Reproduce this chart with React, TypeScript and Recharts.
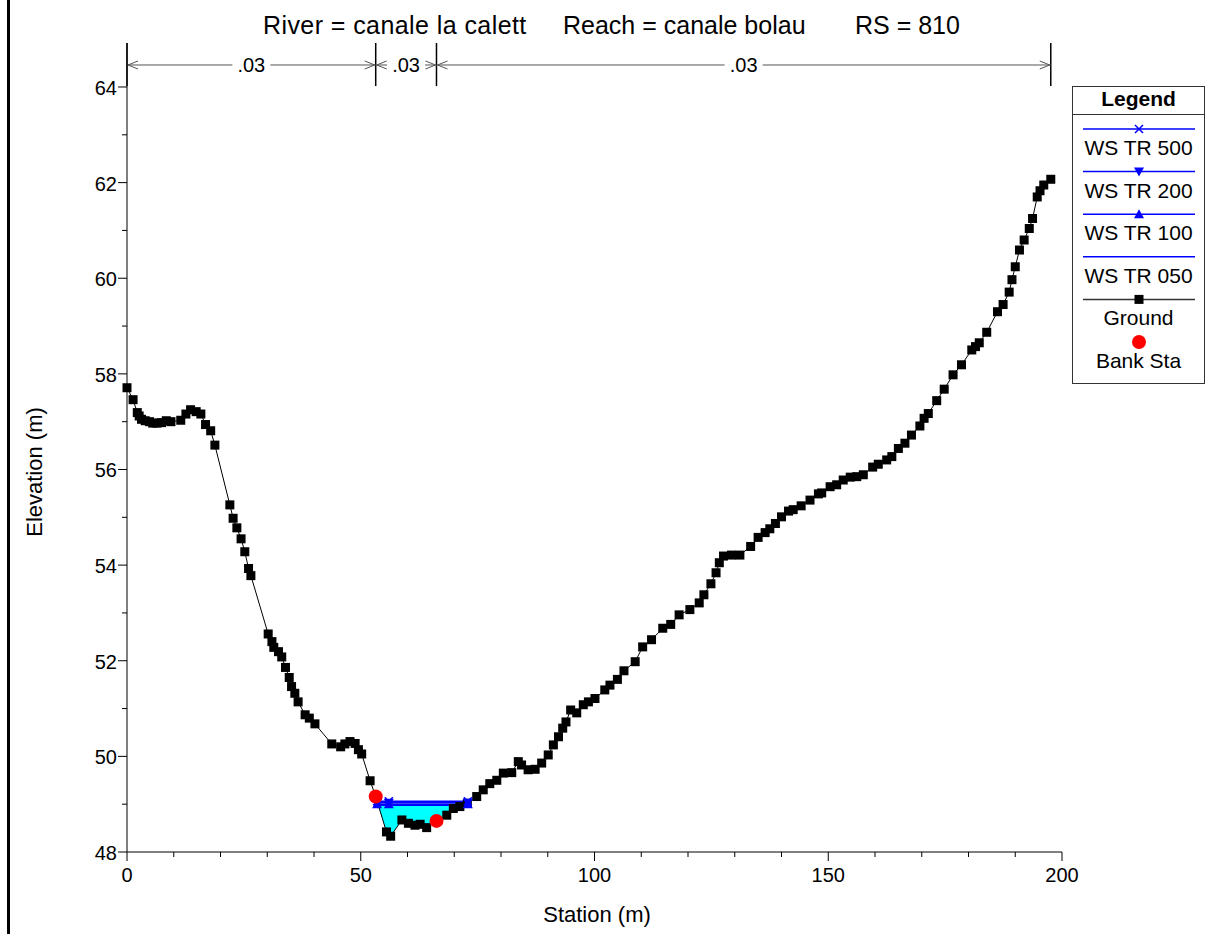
import React from 'react';
import { ComposedChart, Line, Area, XAxis, YAxis, ReferenceLine } from 'recharts';

const FONT = '"Liberation Sans", Arial, Helvetica, sans-serif';

// ground profile (station m, elevation m)
const groundStation = [
  0.0, 1.3, 2.2, 2.6, 3.1, 3.9, 4.8, 5.5, 6.4, 7.4, 8.4, 9.4, 11.5, 12.6, 13.6, 14.8, 15.8, 16.8, 17.9, 18.8,
  22.0, 22.7, 23.5, 24.4, 25.2, 26.0, 26.5, 30.2, 31.0, 31.4, 32.4, 33.1, 33.9, 34.7, 35.2, 35.9, 36.6, 38.1,
  39.0, 40.2, 43.8, 45.7, 46.6, 47.7, 48.8, 49.5, 50.2, 52.0, 53.2, 55.5, 56.4, 58.8, 60.2, 61.6, 62.7, 64.1,
  66.2, 68.4, 69.8, 71.2, 72.8, 74.8, 76.2, 77.6, 79.1, 80.5, 82.3, 83.7, 84.4, 85.8, 87.3, 88.7, 90.1, 91.2,
  92.3, 93.2, 93.9, 94.9, 96.2, 97.6, 98.7, 100.1, 102.2, 103.3, 104.9, 106.3, 108.7, 110.3, 112.2, 114.6,
  116.3, 118.1, 120.4, 122.4, 123.4, 124.9, 126.0, 126.7, 127.6, 129.3, 131.1, 133.4, 135.0, 136.5, 137.5,
  138.7, 140.0, 141.5, 142.5, 144.2, 146.1, 147.9, 148.6, 150.4, 151.8, 153.2, 154.7, 156.1, 157.5, 159.5,
  160.7, 162.5, 163.6, 165.0, 166.4, 167.8, 169.6, 170.5, 171.4, 173.2, 174.8, 176.7, 178.5, 180.7, 181.5,
  182.3, 183.9, 186.2, 187.4, 188.7, 189.3, 190.0, 190.9, 191.9, 193.0, 193.7, 194.7, 195.3, 196.1, 197.6,
];
const groundElev = [
  57.71, 57.46, 57.19, 57.12, 57.05, 57.02, 57.0, 56.97, 56.97, 56.98, 57.02, 57.0, 57.03, 57.16, 57.25, 57.21, 57.16, 56.94, 56.81, 56.51,
  55.26, 54.98, 54.78, 54.55, 54.28, 53.93, 53.78, 52.56, 52.4, 52.28, 52.19, 52.08, 51.86, 51.65, 51.46, 51.32, 51.14, 50.87,
  50.8, 50.68, 50.26, 50.2, 50.26, 50.31, 50.27, 50.14, 50.05, 49.49, 49.16, 48.42, 48.33, 48.67, 48.6, 48.56, 48.58, 48.51,
  48.65, 48.77, 48.91, 48.95, 49.02, 49.16, 49.3, 49.43, 49.5, 49.65, 49.66, 49.89, 49.82, 49.72, 49.73, 49.86, 50.03, 50.24,
  50.41, 50.59, 50.72, 50.97, 50.91, 51.08, 51.14, 51.21, 51.39, 51.49, 51.61, 51.79, 51.98, 52.29, 52.44, 52.68,
  52.76, 52.96, 53.07, 53.21, 53.38, 53.61, 53.84, 54.05, 54.19, 54.21, 54.21, 54.39, 54.58, 54.68, 54.76,
  54.87, 55.01, 55.13, 55.16, 55.24, 55.36, 55.49, 55.51, 55.64, 55.68, 55.78, 55.84, 55.85, 55.89, 56.05,
  56.11, 56.2, 56.27, 56.44, 56.55, 56.72, 56.91, 57.07, 57.17, 57.44, 57.68, 57.98, 58.19, 58.5, 58.57,
  58.65, 58.87, 59.3, 59.45, 59.71, 59.97, 60.24, 60.59, 60.8, 61.04, 61.25, 61.7, 61.83, 61.95, 62.07,
];

const bankStation = [53.2, 66.2];
const bankElev = [49.16, 48.65];

const profileNames = ['WS TR 500', 'WS TR 200', 'WS TR 100', 'WS TR 050'];
const profileKeys = ['ws500', 'ws200', 'ws100', 'ws050'];
const profileWs = [49.06, 49.03, 49.0, 48.98];
const profileMarkers = ['x', 'down', 'up', 'none'];
const wsStation = [53.5, 56.0, 72.9];
const waterEdgeStation = [53.7, 72.3];

// Manning's n bands along the top
const nBreaks = [0, 53.2, 66.2, 197.6];
const nValues = ['.03', '.03', '.03'];
const nArrowY = 64.46;
const nTickLow = 64.02;
const nTickHigh = 64.92;

const xTicks = Array.from({ length: 21 }, (_, i) => i * 10);
const yTicks = Array.from({ length: 17 }, (_, i) => 48 + i);

const titleParts = ['River = canale la calett', 'Reach = canale bolau', 'RS = 810'];

const WS_BLUE = '#0000ff';
const WATER = '#00ffff';

type Row = { st: number; [k: string]: any };
const rowMap = new Map<number, Row>();
const row = (st: number) => {
  if (!rowMap.has(st)) rowMap.set(st, { st });
  return rowMap.get(st)!;
};
groundStation.forEach((s, i) => { row(s).ground = groundElev[i]; });
bankStation.forEach((s, i) => { row(s).bank = bankElev[i]; });
profileKeys.forEach((k, j) => wsStation.forEach((s) => { row(s)[k] = profileWs[j]; }));
const fillWs = profileWs[profileWs.length - 1];
waterEdgeStation.forEach((s) => { row(s).water = [fillWs, fillWs]; });
groundStation.forEach((s, i) => {
  if (s > waterEdgeStation[0] && s < waterEdgeStation[1] && groundElev[i] < fillWs) row(s).water = [groundElev[i], fillWs];
});
const chartData = [...rowMap.values()].sort((a, b) => a.st - b.st);

const XTick = ({ x, y, payload }: any) => {
  const major = payload.value % 50 === 0;
  return (
    <g>
      <line x1={x} y1={y} x2={x} y2={y + (major ? 9 : 5)} stroke="#000" />
      {major && (
        <text x={x} y={y + 30} textAnchor="middle" fontSize={20} fontFamily={FONT} fill="#000">{payload.value}</text>
      )}
    </g>
  );
};

const YTick = ({ x, y, payload }: any) => {
  const major = payload.value % 2 === 0;
  return (
    <g>
      <line x1={x - (major ? 9 : 5)} y1={y} x2={x} y2={y} stroke="#000" />
      {major && (
        <text x={x - 10} y={y + 8} textAnchor="end" fontSize={20} fontFamily={FONT} fill="#000">{payload.value}</text>
      )}
    </g>
  );
};

const GroundDot = (p: any) => {
  if (p.cy == null || p.value == null) return <g key={p.key} />;
  return <rect key={p.key} x={p.cx - 4.5} y={p.cy - 4.5} width={9} height={9} fill="#000" />;
};

const BankDot = (p: any) => {
  if (p.cy == null || p.value == null) return <g key={p.key} />;
  return <circle key={p.key} cx={p.cx} cy={p.cy} r={7} fill="#ff0000" />;
};

const Marker = ({ kind, cx, cy, color }: any) => {
  if (kind === 'x') {
    return <path d={`M${cx - 4},${cy - 4}L${cx + 4},${cy + 4}M${cx - 4},${cy + 4}L${cx + 4},${cy - 4}`} stroke={color} strokeWidth={1.5} fill="none" />;
  }
  if (kind === 'down') return <path d={`M${cx - 5},${cy - 4}L${cx + 5},${cy - 4}L${cx},${cy + 5}Z`} fill={color} />;
  if (kind === 'up') return <path d={`M${cx - 5},${cy + 4}L${cx + 5},${cy + 4}L${cx},${cy - 5}Z`} fill={color} />;
  return null;
};

const wsDot = (kind: string) => (p: any) => {
  if (p.cy == null || p.value == null || kind === 'none') return <g key={p.key} />;
  return <g key={p.key}><Marker kind={kind} cx={p.cx} cy={p.cy} color={WS_BLUE} /></g>;
};

const NSpan = ({ x1, y1, x2, text }: any) => {
  const mid = (x1 + x2) / 2;
  const half = 19;
  const c = '#555';
  return (
    <g>
      <line x1={x1} y1={y1} x2={mid - half} y2={y1} stroke={c} />
      <line x1={mid + half} y1={y1} x2={x2} y2={y1} stroke={c} />
      <path d={`M${x1 + 11},${y1 - 4}L${x1 + 1},${y1}L${x1 + 11},${y1 + 4}`} stroke={c} fill="none" />
      <path d={`M${x2 - 11},${y1 - 4}L${x2 - 1},${y1}L${x2 - 11},${y1 + 4}`} stroke={c} fill="none" />
      <text x={mid} y={y1 + 7} textAnchor="middle" fontSize={20} fontFamily={FONT} fill="#000">{text}</text>
    </g>
  );
};

const legendItems = [
  ...profileNames.map((name, i) => ({ name, kind: profileMarkers[i], color: WS_BLUE, line: true })),
  { name: 'Ground', kind: 'square', color: '#000', line: true },
  { name: 'Bank Sta', kind: 'circle', color: '#ff0000', line: false },
];

const LegendBox = () => {
  const w = 133;
  const h = 298;
  return (
    <svg width={w} height={h} style={{ position: 'absolute', left: 1072, top: 86 }}>
      <rect x={0.5} y={0.5} width={w - 1} height={h - 1} fill="#fff" stroke="#333" />
      <line x1={0} y1={28.5} x2={w} y2={28.5} stroke="#333" />
      <text x={w / 2} y={20} textAnchor="middle" fontSize={21} fontWeight="bold" fontFamily={FONT}>Legend</text>
      {legendItems.map((it, i) => {
        const ly = 43 + i * 42.6;
        const cx = w / 2 + 0.5;
        return (
          <g key={it.name}>
            {it.line && <line x1={11} y1={ly} x2={w - 10} y2={ly} stroke={it.color === '#000' ? '#333' : it.color} strokeWidth={1.5} />}
            {it.kind === 'square' && <rect x={cx - 4.5} y={ly - 4.5} width={9} height={9} fill="#000" />}
            {it.kind === 'circle' && <circle cx={cx} cy={ly} r={7} fill={it.color} />}
            {['x', 'down', 'up'].includes(it.kind) && <Marker kind={it.kind} cx={cx} cy={ly} color={it.color} />}
            <text x={w / 2} y={ly + 26} textAnchor="middle" fontSize={21} fontFamily={FONT} fill="#000">{it.name}</text>
          </g>
        );
      })}
    </svg>
  );
};

export default function App() {
  const titleX = [263, 563, 855];
  const titleSpacing = [0.42, 0, 0];
  return (
    <div style={{ position: 'absolute', left: 0, top: 0, width: 1214, height: 934, background: '#fff', fontFamily: FONT }}>
      <ComposedChart width={1214} height={934} data={chartData} margin={{ top: 43, right: 152, bottom: 0, left: 0 }}>
        <XAxis
          dataKey="st"
          type="number"
          domain={[0, 200]}
          ticks={xTicks}
          interval={0}
          tickSize={0}
          tickMargin={0}
          tickLine={false}
          tick={(p: any) => <XTick {...p} />}
          height={82}
          axisLine={{ stroke: '#000' }}
        />
        <YAxis
          type="number"
          domain={[48, nTickHigh]}
          ticks={yTicks}
          interval={0}
          tickSize={0}
          tickMargin={0}
          tickLine={false}
          tick={(p: any) => <YTick {...p} />}
          width={127}
          axisLine={{ stroke: '#000' }}
        />
        <Area
          dataKey="water"
          type="linear"
          fill={WATER}
          fillOpacity={1}
          stroke="none"
          connectNulls
          isAnimationActive={false}
        />
        <Line dataKey="ground" type="linear" stroke="#000" strokeWidth={1} dot={GroundDot} connectNulls isAnimationActive={false} />
        {profileKeys.map((k, i) => (
          <Line
            key={k}
            dataKey={k}
            name={profileNames[i]}
            type="linear"
            stroke={WS_BLUE}
            strokeWidth={1.5}
            dot={wsDot(profileMarkers[i])}
            connectNulls
            isAnimationActive={false}
          />
        ))}
        <Line dataKey="bank" stroke="none" dot={BankDot} isAnimationActive={false} />
        {nBreaks.map((b, i) => (
          <ReferenceLine key={'nb' + i} segment={[{ x: b, y: nTickLow }, { x: b, y: nTickHigh }]} stroke="#000" strokeWidth={1.5} />
        ))}
        {nValues.map((v, i) => (
          <ReferenceLine
            key={'ns' + i}
            segment={[{ x: nBreaks[i], y: nArrowY }, { x: nBreaks[i + 1], y: nArrowY }]}
            shape={(p: any) => <NSpan {...p} text={v} />}
          />
        ))}
      </ComposedChart>
      <svg width={1214} height={934} style={{ position: 'absolute', left: 0, top: 0, pointerEvents: 'none' }}>
        {titleParts.map((t, i) => (
          <text key={t} x={titleX[i]} y={34} fontSize={25} letterSpacing={titleSpacing[i]} fontFamily={FONT} fill="#000">{t}</text>
        ))}
        <text x={597} y={922} textAnchor="middle" fontSize={22} fontFamily={FONT} fill="#000">Station (m)</text>
        <text x={42} y={472} transform="rotate(-90 42 472)" textAnchor="middle" fontSize={22} fontFamily={FONT} fill="#000">Elevation (m)</text>
      </svg>
      <LegendBox />
      <div style={{ position: 'absolute', left: 7, top: 0, width: 3, height: 934, background: '#000' }} />
    </div>
  );
}
